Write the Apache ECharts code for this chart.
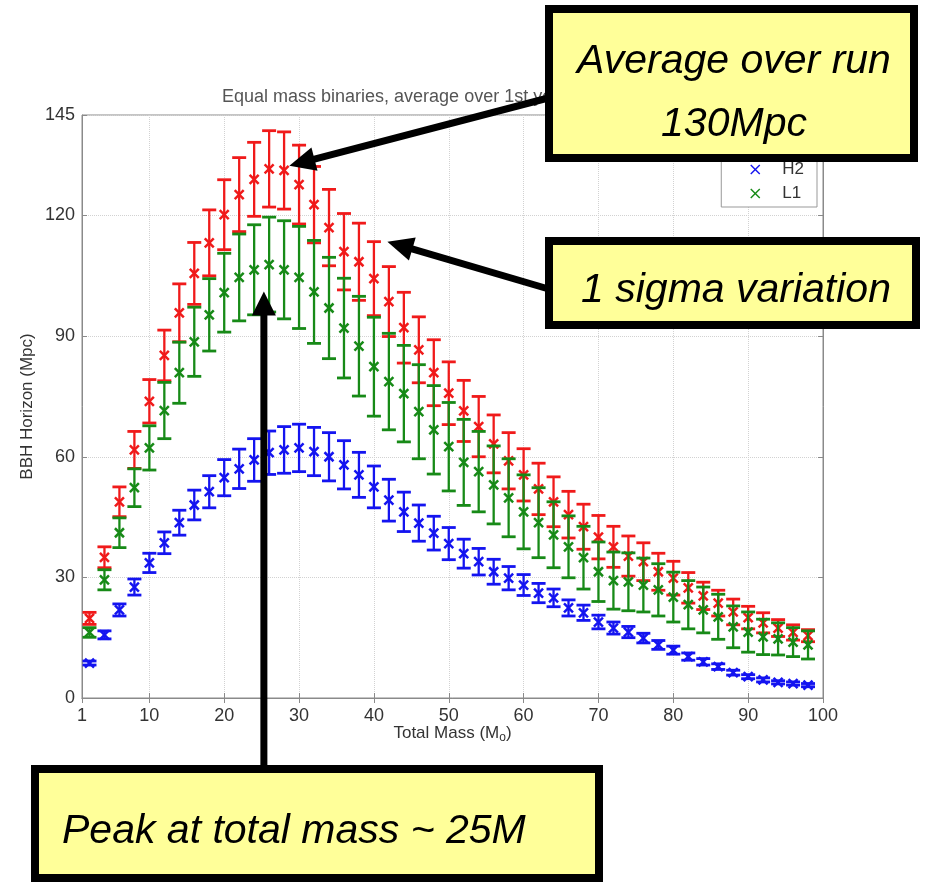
<!DOCTYPE html>
<html>
<head>
<meta charset="utf-8">
<script src="https://cdn.jsdelivr.net/npm/echarts@6/dist/echarts.min.js"></script>
<style>
  html, body { margin: 0; padding: 0; background: #fff; }
  #chart { width: 926px; height: 884px; }
</style>
</head>
<body>
<div id="chart"></div>
<script>
// Total mass of the equal-mass binary (solar masses)
const totalMass = [
  2, 4, 6, 8, 10, 12, 14, 16, 18, 20,
  22, 24, 26, 28, 30, 32, 34, 36, 38, 40,
  42, 44, 46, 48, 50, 52, 54, 56, 58, 60,
  62, 64, 66, 68, 70, 72, 74, 76, 78, 80,
  82, 84, 86, 88, 90, 92, 94, 96, 98
];

// H1 horizon distance (Mpc): run average and 1 sigma spread
const h1Mean = [
  19.8, 35.0, 48.8, 61.7, 73.8, 85.2, 95.8, 105.6, 113.2, 120.2,
  125.2, 129.0, 131.6, 131.2, 127.7, 122.7, 117.0, 111.0, 108.5, 104.3,
  98.6, 92.1, 86.6, 80.9, 75.8, 71.4, 67.5, 63.2, 59.0, 55.5,
  52.0, 48.8, 45.6, 42.6, 40.0, 37.6, 35.3, 33.9, 31.4, 29.8,
  27.4, 25.4, 23.6, 21.4, 20.0, 18.7, 17.4, 16.3, 15.5
];
const h1Sigma = [
  1.5, 2.6, 3.7, 4.6, 5.4, 6.3, 7.2, 7.7, 8.2, 8.7,
  9.2, 9.2, 9.5, 9.6, 9.8, 9.5, 9.5, 9.5, 9.6, 9.2,
  8.7, 8.8, 8.2, 8.2, 7.8, 7.6, 7.5, 7.2, 7.0, 6.5,
  6.4, 6.2, 5.8, 5.6, 5.4, 5.1, 5.0, 4.7, 4.6, 4.2,
  3.8, 3.4, 3.2, 3.2, 2.8, 2.5, 2.1, 1.9, 1.5
];

// H2 horizon distance (Mpc)
const h2Mean = [
  8.7, 15.7, 21.9, 27.6, 33.6, 38.6, 43.6, 48.0, 51.3, 54.8,
  57.0, 59.2, 61.0, 61.7, 62.2, 61.3, 60.0, 58.0, 55.5, 52.5,
  49.2, 46.3, 43.5, 41.0, 38.4, 35.9, 33.9, 31.4, 29.8, 28.1,
  26.1, 24.9, 22.4, 21.2, 18.9, 17.4, 16.4, 14.9, 13.2, 11.9,
  10.3, 9.0, 7.8, 6.3, 5.3, 4.5, 3.9, 3.6, 3.2
];
const h2Sigma = [
  0.5, 1.0, 1.5, 2.0, 2.4, 2.7, 3.1, 3.7, 4.0, 4.5,
  4.9, 5.3, 5.4, 5.8, 5.9, 6.0, 6.0, 6.0, 5.6, 5.2,
  5.2, 4.9, 4.5, 4.2, 4.0, 3.6, 3.3, 3.1, 2.9, 2.6,
  2.4, 2.2, 2.0, 1.9, 1.7, 1.5, 1.4, 1.2, 1.1, 1.0,
  0.9, 0.8, 0.7, 0.6, 0.5, 0.5, 0.4, 0.4, 0.4
];

// L1 horizon distance (Mpc)
const l1Mean = [
  16.3, 29.4, 41.1, 52.3, 62.2, 71.5, 80.9, 88.6, 95.3, 100.8,
  104.6, 106.5, 107.8, 106.5, 104.6, 101.0, 97.0, 92.0, 87.5, 82.4,
  78.7, 75.7, 71.2, 66.7, 62.5, 58.6, 56.3, 53.0, 49.8, 46.3,
  43.6, 40.6, 37.6, 34.9, 31.4, 29.2, 28.9, 28.1, 26.9, 25.1,
  23.2, 21.9, 20.2, 17.7, 16.4, 15.2, 14.7, 13.9, 13.2
];
const l1Sigma = [
  1.2, 2.5, 3.7, 4.7, 5.5, 7.0, 7.6, 8.6, 9.0, 9.8,
  10.8, 11.2, 11.8, 12.2, 12.7, 12.8, 12.6, 12.4, 12.4, 12.3,
  12.0, 12.0, 11.7, 11.0, 11.0, 10.7, 10.0, 9.7, 9.7, 9.2,
  8.7, 8.2, 7.7, 7.8, 7.4, 7.1, 7.2, 6.7, 6.5, 6.2,
  6.0, 5.7, 5.6, 5.2, 5.0, 4.4, 4.0, 3.6, 3.5
];

// Axis ticks
const xTicks = [1, 10, 20, 30, 40, 50, 60, 70, 80, 90, 100];
const yTicks = [0, 30, 60, 90, 120, 145];

const FONT = '"Liberation Sans", Arial, Helvetica, sans-serif';
const RED = '#f01a1a';
const BLUE = '#1414f0';
const GREEN = '#178a17';
const X_ICON = 'path://M1,0L5,4L9,0L10,1L6,5L10,9L9,10L5,6L1,10L0,9L4,5L0,1Z';

function toPoints(mean, sigma) {
  return totalMass.map((m, i) => [m, mean[i], sigma[i]]);
}

// Error bar with caps and an "x" marker at the mean
function errorBars(color) {
  return function (params, api) {
    const m = api.value(0), v = api.value(1), s = api.value(2);
    const c = api.coord([m, v]);
    const hi = api.coord([m, v + s]);
    const lo = api.coord([m, v - s]);
    const cap = 7, mk = 4.5;
    const bar = { stroke: color, lineWidth: 2.3 };
    const capStyle = { stroke: color, lineWidth: 2.8 };
    const markStyle = { stroke: color, lineWidth: 2.5 };
    return {
      type: 'group',
      children: [
        { type: 'line', shape: { x1: c[0], y1: hi[1], x2: c[0], y2: lo[1] }, style: bar },
        { type: 'line', shape: { x1: c[0] - cap, y1: hi[1], x2: c[0] + cap, y2: hi[1] }, style: capStyle },
        { type: 'line', shape: { x1: c[0] - cap, y1: lo[1], x2: c[0] + cap, y2: lo[1] }, style: capStyle },
        { type: 'line', shape: { x1: c[0] - mk, y1: c[1] - mk, x2: c[0] + mk, y2: c[1] + mk }, style: markStyle },
        { type: 'line', shape: { x1: c[0] - mk, y1: c[1] + mk, x2: c[0] + mk, y2: c[1] - mk }, style: markStyle }
      ]
    };
  };
}

function detector(name, color, mean, sigma, z) {
  return {
    name: name,
    type: 'custom',
    renderItem: errorBars(color),
    data: toPoints(mean, sigma),
    encode: { x: 0, y: 1 },
    itemStyle: { color: color },
    z: z
  };
}

const axisGray = '#8a8a8a';
const gridLine = { show: true, lineStyle: { color: '#d2d2d2', type: 'dotted', width: 1 } };

const chart = echarts.init(document.getElementById('chart'));

chart.setOption({
  animation: false,
  backgroundColor: '#fff',
  title: {
    text: 'Equal mass binaries, average over 1st year of S5',
    left: 222,
    top: 88,
    padding: 0,
    textStyle: { fontFamily: FONT, fontSize: 18, fontWeight: 'normal', color: '#555' }
  },
  legend: {
    orient: 'vertical',
    right: 109,
    top: 129,
    padding: [8, 13, 5, 29],
    itemWidth: 44,
    itemHeight: 10,
    itemGap: 7,
    borderColor: '#999',
    borderWidth: 1,
    backgroundColor: '#fff',
    textStyle: { fontFamily: FONT, fontSize: 17, color: '#333' },
    data: [
      { name: 'H1', icon: X_ICON },
      { name: 'H2', icon: X_ICON },
      { name: 'L1', icon: X_ICON }
    ]
  },
  grid: {
    left: 82, right: 103, top: 115, bottom: 186,
    outerBoundsMode: 'none',
    containLabel: false,
    show: true,
    borderColor: axisGray,
    borderWidth: 1
  },
  xAxis: [
    {
      type: 'value',
      min: 1, max: 100,
      name: 'Total Mass (M{sub|o})',
      nameLocation: 'middle',
      nameMoveOverlap: false,
      nameGap: 24,
      nameTextStyle: {
        fontFamily: FONT, fontSize: 17, color: '#333',
        rich: { sub: { fontFamily: FONT, fontSize: 12, color: '#333', padding: [10, 0, 0, 0] } }
      },
      axisLine: { lineStyle: { color: axisGray } },
      axisTick: { inside: true, length: 5, customValues: xTicks, lineStyle: { color: axisGray } },
      axisLabel: { customValues: xTicks, margin: 9, fontFamily: FONT, fontSize: 18, color: '#333' },
      splitLine: gridLine
    },
    {
      type: 'value',
      position: 'top',
      min: 1, max: 100,
      axisLine: { lineStyle: { color: axisGray } },
      axisTick: { inside: true, length: 5, customValues: xTicks, lineStyle: { color: axisGray } },
      axisLabel: { show: false },
      splitLine: { show: false }
    }
  ],
  yAxis: [
    {
      type: 'value',
      min: 0, max: 145,
      name: 'BBH Horizon (Mpc)',
      nameLocation: 'middle',
      nameMoveOverlap: false,
      nameGap: 46,
      nameTextStyle: { fontFamily: FONT, fontSize: 17, color: '#333' },
      axisLine: { show: true, lineStyle: { color: axisGray } },
      axisTick: { show: true, inside: true, length: 5, customValues: yTicks, lineStyle: { color: axisGray } },
      axisLabel: { customValues: yTicks, margin: 7, fontFamily: FONT, fontSize: 18, color: '#333' },
      splitLine: gridLine
    },
    {
      type: 'value',
      position: 'right',
      min: 0, max: 145,
      axisLine: { show: true, lineStyle: { color: axisGray } },
      axisTick: { show: true, inside: true, length: 5, customValues: yTicks, lineStyle: { color: axisGray } },
      axisLabel: { show: false },
      splitLine: { show: false }
    }
  ],
  series: [
    detector('H1', RED, h1Mean, h1Sigma, 2),
    detector('H2', BLUE, h2Mean, h2Sigma, 3),
    detector('L1', GREEN, l1Mean, l1Sigma, 4)
  ]
});

// Callout boxes with arrows pointing into the plot
function arrow(from, to, headLen, headHalf, width) {
  const dx = to[0] - from[0], dy = to[1] - from[1];
  const len = Math.hypot(dx, dy);
  const ux = dx / len, uy = dy / len;
  const bx = to[0] - ux * headLen, by = to[1] - uy * headLen;
  const nx = -uy, ny = ux;
  return [
    { type: 'line', z: 100, silent: true,
      shape: { x1: from[0], y1: from[1], x2: bx + ux * 3, y2: by + uy * 3 },
      style: { stroke: '#000', lineWidth: width } },
    { type: 'polygon', z: 100, silent: true,
      shape: { points: [[to[0], to[1]], [bx + nx * headHalf, by + ny * headHalf], [bx - nx * headHalf, by - ny * headHalf]] },
      style: { fill: '#000' } }
  ];
}

function box(x, y, w, h) {
  return { type: 'rect', z: 100, silent: true,
    shape: { x: x, y: y, width: w, height: h },
    style: { fill: '#ffff99', stroke: '#000', lineWidth: 8 } };
}

function label(text, x, y, align) {
  return { type: 'text', z: 101, silent: true,
    style: { text: text, x: x, y: y, font: 'italic 41px ' + FONT, fill: '#000',
      align: align, verticalAlign: 'middle', textAlign: align, textVerticalAlign: 'middle' } };
}

const px = p => chart.convertToPixel({ xAxisIndex: 0, yAxisIndex: 0 }, p);
const tipAverage = px([28.7, 132.4]);
const tipSigma = px([41.8, 113.5]);
const tipPeak = px([25.3, 101.1]);

chart.setOption({
  graphic: [].concat(
    arrow([552, 97], tipAverage, 26, 12, 7),
    arrow([552, 290], tipSigma, 26, 12, 7),
    arrow([tipPeak[0], 772], tipPeak, 24, 12, 7),
    [
      box(549, 9, 365, 149),
      label('Average over run', 734, 62, 'center'),
      label('130Mpc', 734, 125, 'center'),
      box(549, 241, 367, 84),
      label('1 sigma variation', 736, 291, 'center'),
      box(35, 769, 564, 109),
      label('Peak at total mass ~ 25M', 62, 832, 'left')
    ]
  )
});
</script>
</body>
</html>
